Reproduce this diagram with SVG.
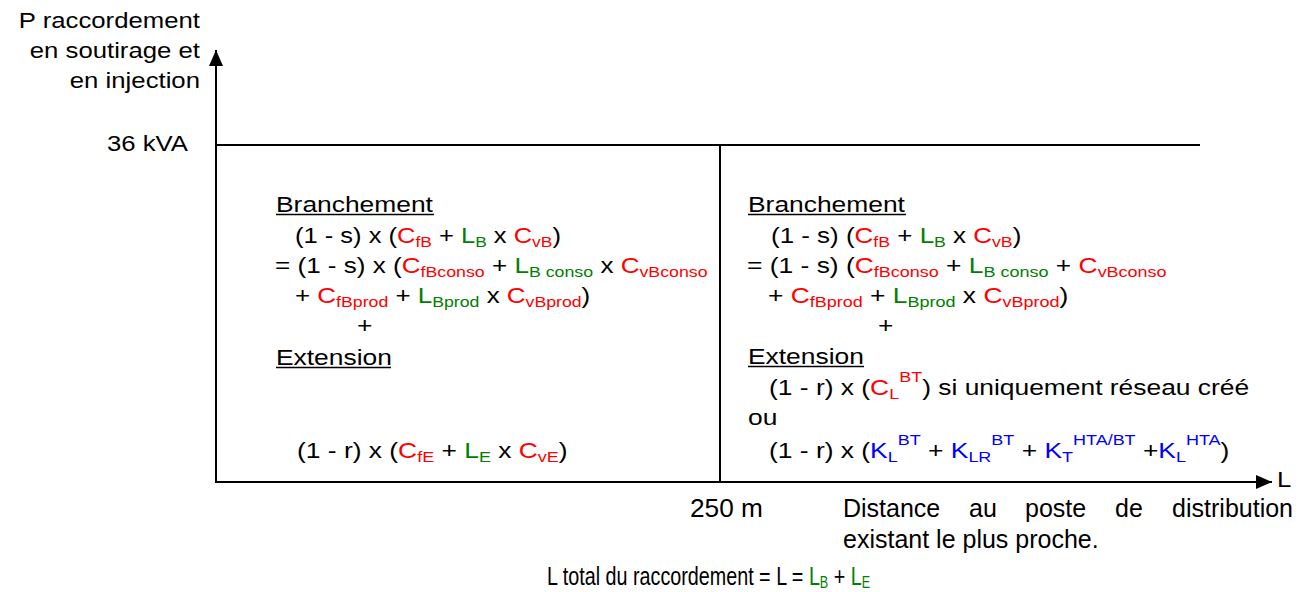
<svg xmlns="http://www.w3.org/2000/svg" width="1311" height="592" viewBox="0 0 1311 592">
<style>
text{font-family:"Liberation Sans",Arial,sans-serif;font-size:22px;fill:#000}
.r{fill:#FF0000}.g{fill:#008000}.b{fill:#0000FF}
.s{font-size:15px}
.lo{font-size:25px}
.los{font-size:16px}
.ax{stroke:#000;stroke-width:2;fill:none}
.ul{stroke:#000;stroke-width:1.6}
</style>
<defs>
<marker id="arr" markerWidth="16" markerHeight="14" refX="16" refY="7" orient="auto" markerUnits="userSpaceOnUse">
<path d="M0,0 L16,7 L0,14 Z" fill="#000"/>
</marker>
</defs>
<g id="axes">
<line class="ax" x1="216" y1="482" x2="216" y2="50" marker-end="url(#arr)"/>
<line class="ax" x1="215" y1="482" x2="1272" y2="482" marker-end="url(#arr)"/>
<line class="ax" x1="216" y1="145" x2="1200" y2="145"/>
<line class="ax" x1="720" y1="145" x2="720" y2="482"/>
</g>
<g id="axis-labels">
<text transform="translate(200,28) scale(1.17,1)" text-anchor="end">P raccordement</text>
<text transform="translate(200,58) scale(1.17,1)" text-anchor="end">en soutirage et</text>
<text transform="translate(200,88) scale(1.17,1)" text-anchor="end">en injection</text>
<text transform="translate(188,151) scale(1.17,1)" text-anchor="end">36 kVA</text>
<text transform="translate(1277,487) scale(1.17,1)">L</text>
<text class="lo" transform="translate(690,517) scale(1.05,1)">250 m</text>
<text class="lo" x="843" y="517">Distance</text>
<text class="lo" x="969" y="517">au</text>
<text class="lo" x="1025" y="517">poste</text>
<text class="lo" x="1115" y="517">de</text>
<text class="lo" x="1293" y="517" text-anchor="end">distribution</text>
<text class="lo" x="843" y="548">existant le plus proche.</text>
<text class="lo" transform="translate(547,585) scale(0.79,1)">L total du raccordement = L = <tspan class="g">L</tspan><tspan class="g los" dy="3">B</tspan><tspan dy="-3"> + </tspan><tspan class="g">L</tspan><tspan class="g los" dy="3">E</tspan></text>
</g>
<g id="zone-left">
<text transform="translate(276,212) scale(1.2,1)">Branchement</text>
<line class="ul" x1="276" y1="214.5" x2="434" y2="214.5"/>
<text transform="translate(295,243) scale(1.16,1)">(1 - s) x (<tspan class="r">C</tspan><tspan class="r s" dy="4">fB</tspan><tspan dy="-4"> + </tspan><tspan class="g">L</tspan><tspan class="g s" dy="4">B</tspan><tspan dy="-4"> x </tspan><tspan class="r">C</tspan><tspan class="r s" dy="4">vB</tspan><tspan dy="-4">)</tspan></text>
<text transform="translate(275,273) scale(1.185,1)">= (1 - s) x (<tspan class="r">C</tspan><tspan class="r s" dy="4">fBconso</tspan><tspan dy="-4"> + </tspan><tspan class="g">L</tspan><tspan class="g s" dy="4">B conso</tspan><tspan dy="-4"> x </tspan><tspan class="r">C</tspan><tspan class="r s" dy="4">vBconso</tspan></text>
<text transform="translate(295,303) scale(1.18,1)">+ <tspan class="r">C</tspan><tspan class="r s" dy="4">fBprod</tspan><tspan dy="-4"> + </tspan><tspan class="g">L</tspan><tspan class="g s" dy="4">Bprod</tspan><tspan dy="-4"> x </tspan><tspan class="r">C</tspan><tspan class="r s" dy="4">vBprod</tspan><tspan dy="-4">)</tspan></text>
<text transform="translate(357,333) scale(1.2,1)">+</text>
<text transform="translate(276,365) scale(1.2,1)">Extension</text>
<line class="ul" x1="276" y1="367.5" x2="391" y2="367.5"/>
<text transform="translate(297,458) scale(1.2,1)">(1 - r) x (<tspan class="r">C</tspan><tspan class="r s" dy="4">fE</tspan><tspan dy="-4"> + </tspan><tspan class="g">L</tspan><tspan class="g s" dy="4">E</tspan><tspan dy="-4"> x </tspan><tspan class="r">C</tspan><tspan class="r s" dy="4">vE</tspan><tspan dy="-4">)</tspan></text>
</g>
<g id="zone-right">
<text transform="translate(748,212) scale(1.2,1)">Branchement</text>
<line class="ul" x1="748" y1="214.5" x2="906" y2="214.5"/>
<text transform="translate(771,243) scale(1.18,1)">(1 - s) (<tspan class="r">C</tspan><tspan class="r s" dy="4">fB</tspan><tspan dy="-4"> + </tspan><tspan class="g">L</tspan><tspan class="g s" dy="4">B</tspan><tspan dy="-4"> x </tspan><tspan class="r">C</tspan><tspan class="r s" dy="4">vB</tspan><tspan dy="-4">)</tspan></text>
<text transform="translate(747,273) scale(1.2,1)">= (1 - s) (<tspan class="r">C</tspan><tspan class="r s" dy="4">fBconso</tspan><tspan dy="-4"> + </tspan><tspan class="g">L</tspan><tspan class="g s" dy="4">B conso</tspan><tspan dy="-4"> + </tspan><tspan class="r">C</tspan><tspan class="r s" dy="4">vBconso</tspan></text>
<text transform="translate(768,303) scale(1.2,1)">+ <tspan class="r">C</tspan><tspan class="r s" dy="4">fBprod</tspan><tspan dy="-4"> + </tspan><tspan class="g">L</tspan><tspan class="g s" dy="4">Bprod</tspan><tspan dy="-4"> x </tspan><tspan class="r">C</tspan><tspan class="r s" dy="4">vBprod</tspan><tspan dy="-4">)</tspan></text>
<text transform="translate(878,333) scale(1.2,1)">+</text>
<text transform="translate(748,364) scale(1.2,1)">Extension</text>
<line class="ul" x1="748" y1="366.5" x2="864" y2="366.5"/>
<text transform="translate(769,395) scale(1.2,1)">(1 - r) x (<tspan class="r">C</tspan><tspan class="r s" dy="4">L</tspan><tspan class="r s" dy="-17">BT</tspan><tspan dy="13">) si uniquement réseau créé</tspan></text>
<text transform="translate(748,425) scale(1.2,1)">ou</text>
<text transform="translate(769,458) scale(1.2,1)">(1 - r) x (<tspan class="b">K</tspan><tspan class="b s" dy="4">L</tspan><tspan class="b s" dy="-17">BT</tspan><tspan dy="13"> + </tspan><tspan class="b">K</tspan><tspan class="b s" dy="4">LR</tspan><tspan class="b s" dy="-17">BT</tspan><tspan dy="13"> + </tspan><tspan class="b">K</tspan><tspan class="b s" dy="4">T</tspan><tspan class="b s" dy="-17">HTA/BT</tspan><tspan dy="13"> +</tspan><tspan class="b">K</tspan><tspan class="b s" dy="4">L</tspan><tspan class="b s" dy="-17">HTA</tspan><tspan dy="13">)</tspan></text>
</g>
</svg>
